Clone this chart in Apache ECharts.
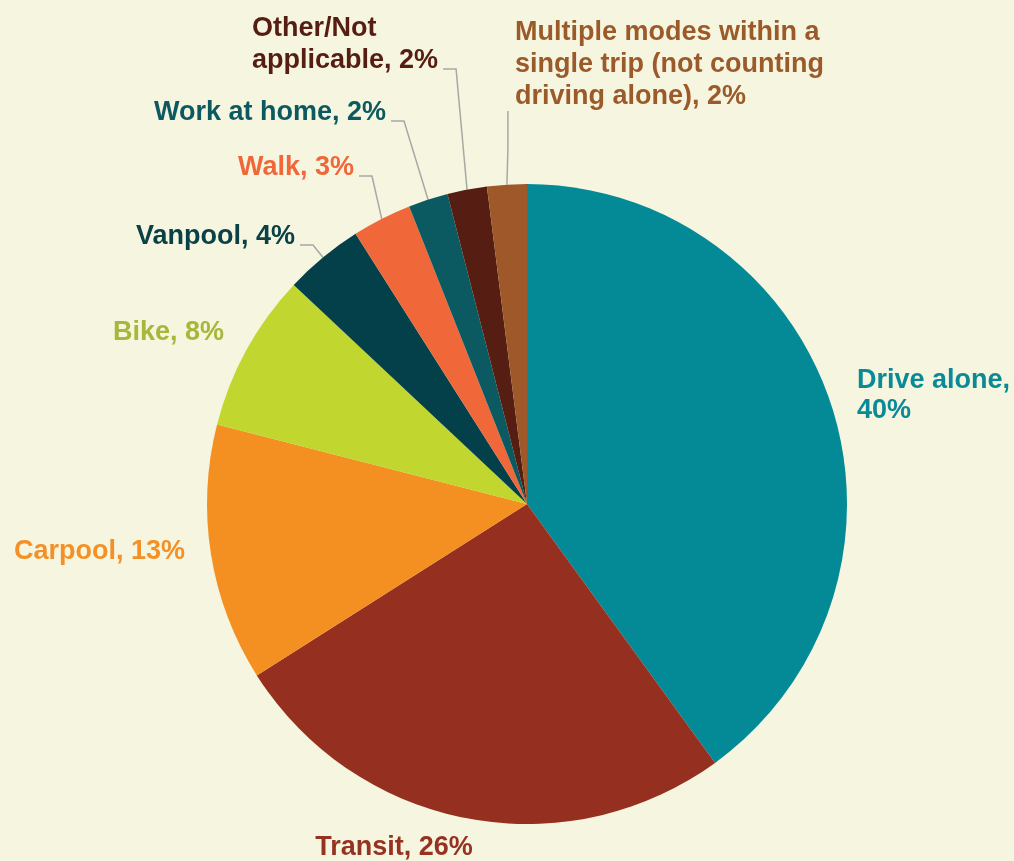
<!DOCTYPE html>
<html lang="en">
<head>
    <meta charset="UTF-8">
    <title>Commute mode share</title>
    <script src="https://cdn.jsdelivr.net/npm/echarts@6/dist/echarts.min.js"></script>
    <style>
        html, body {
            margin: 0;
            padding: 0;
            background: #f6f5df;
        }
        #main {
            width: 1014px;
            height: 861px;
        }
    </style>
</head>
<body>
<div id="main"></div>
<script>
    // data, clockwise from 12 o'clock
    var modes = ['Drive alone', 'Transit', 'Carpool', 'Bike', 'Vanpool', 'Walk',
        'Work at home', 'Other/Not\napplicable', 'Multiple modes within a\nsingle trip (not counting\ndriving alone)'];
    var shares = [40, 26, 13, 8, 4, 3, 2, 2, 2];
    var sliceColors = ['#038a96', '#952f20', '#f49022', '#c1d72f', '#04404a', '#f0673a', '#0b5a62', '#561e12', '#9e5829'];
    var textColors = ['#0a8a96', '#963221', '#f39127', '#a6b83a', '#0a4147', '#f0673a', '#0c5a60', '#561e12', '#9b5a2a'];

    // where each label sits (x, y, align) and how its leader line runs
    var labelSpots = [
        {x: 857, y: 396, align: 'left', line: 'none'},
        {x: 394, y: 848, align: 'center', line: 'none'},
        {x: 185, y: 552, align: 'right', line: 'none'},
        {x: 224, y: 333, align: 'right', line: 'none'},
        {x: 295, y: 237, align: 'right', line: 'side'},
        {x: 354, y: 168, align: 'right', line: 'side'},
        {x: 386, y: 113, align: 'right', line: 'side'},
        {x: 252, y: 45, align: 'left', line: 'side'},
        {x: 515, y: 65, align: 'left', line: 'below'}
    ];

    var chart = echarts.init(document.getElementById('main'), null, {renderer: 'canvas'});

    var pieData = modes.map(function (name, i) {
        return {
            name: name,
            value: shares[i],
            itemStyle: {color: sliceColors[i]},
            label: {color: textColors[i], lineHeight: i === 0 ? 30 : 32},
            labelLine: {show: labelSpots[i].line !== 'none'}
        };
    });

    function sliceEdge(idx) {
        var lay = chart.getModel().getSeriesByIndex(0).getData().getItemLayout(idx);
        var mid = (lay.startAngle + lay.endAngle) / 2;
        return [lay.cx + lay.r * Math.cos(mid), lay.cy + lay.r * Math.sin(mid)];
    }

    var option = {
        backgroundColor: '#f6f5df',
        animation: false,
        series: [{
            type: 'pie',
            center: [527, 504],
            radius: 320,
            startAngle: 90,
            clockwise: true,
            avoidLabelOverlap: false,
            silent: true,
            data: pieData,
            itemStyle: {borderWidth: 0},
            label: {
                show: true,
                position: 'outside',
                fontFamily: '"Liberation Sans", Arial, sans-serif',
                fontWeight: 'bold',
                fontSize: 27,
                formatter: function (p) {
                    return p.dataIndex === 0 ? p.name + ',\n' + p.value + '%' : p.name + ', ' + p.value + '%';
                }
            },
            labelLine: {
                lineStyle: {color: '#a8a8a8', width: 1.5}
            },
            labelLayout: function (params) {
                var s = labelSpots[params.dataIndex];
                var out = {x: s.x, y: s.y, align: s.align, verticalAlign: 'middle'};
                var w = params.labelRect.width;
                var h = params.labelRect.height;
                var right = s.align === 'right' ? s.x : s.x + w;
                var bottom = s.y + h / 2;
                var p0;
                if (s.line === 'side') {
                    p0 = sliceEdge(params.dataIndex);
                    var ly = bottom - 8;
                    out.labelLinePoints = [p0, [right + 18, ly], [right + 5, ly]];
                } else if (s.line === 'below') {
                    p0 = sliceEdge(params.dataIndex);
                    out.labelLinePoints = [p0, [p0[0] + 1, (p0[1] + bottom) / 2], [p0[0] + 1, bottom - 2]];
                }
                return out;
            }
        }]
    };

    chart.setOption(option);
</script>
</body>
</html>
